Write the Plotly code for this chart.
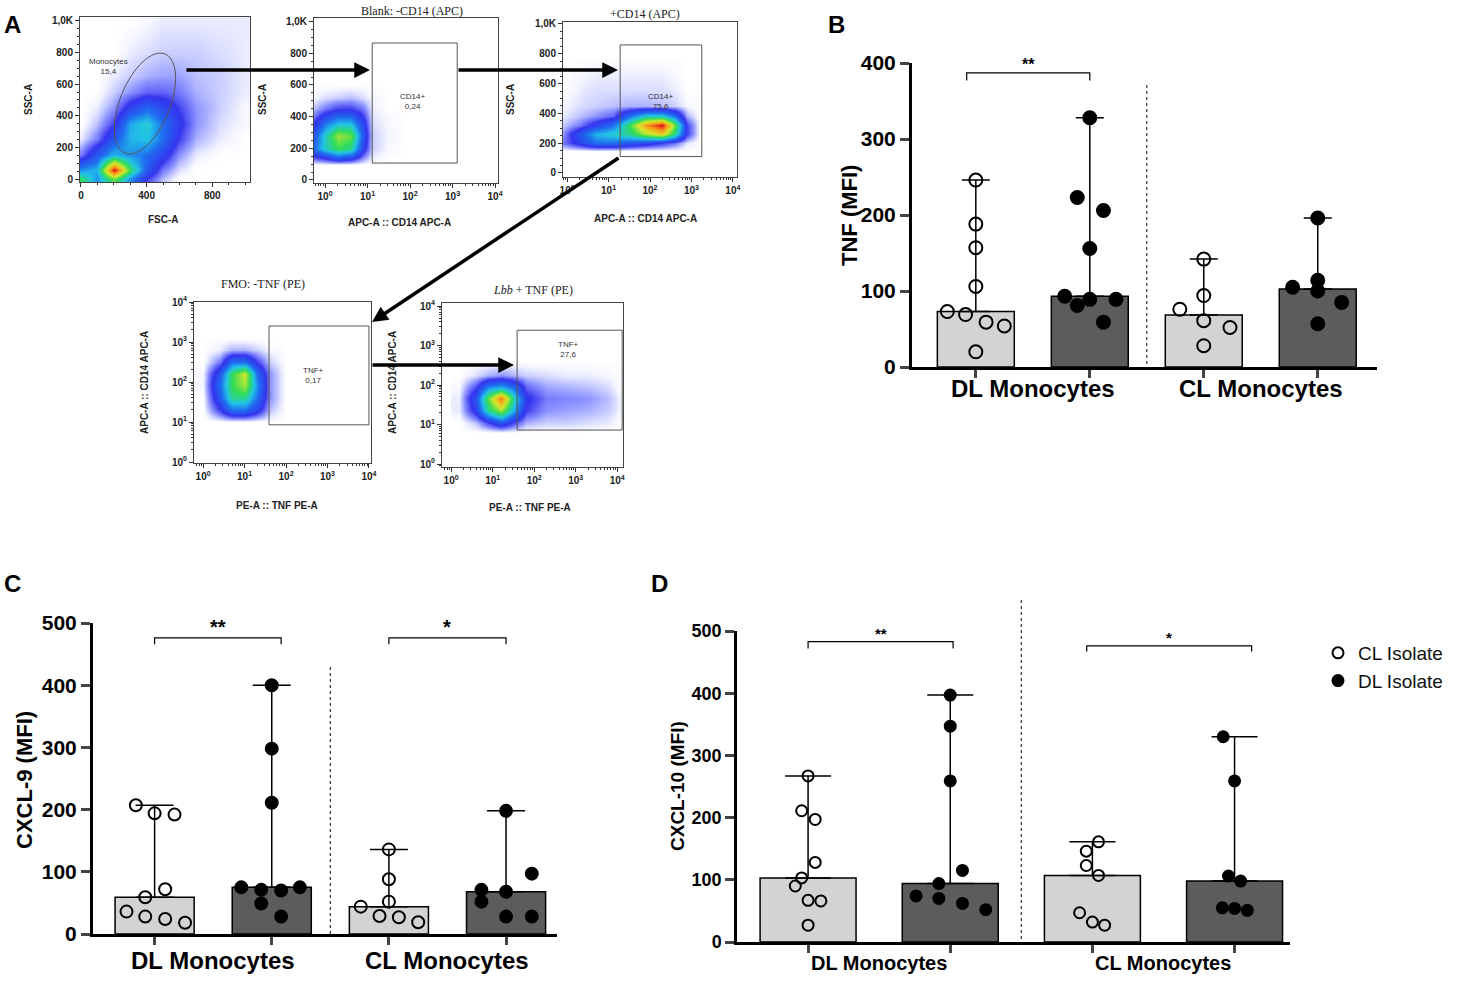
import numpy as np
import plotly.graph_objects as go

W, H = 1459, 986


def px(x):
    return x / W


def py(y):
    return 1 - y / H


# %%
# Panels B-D: MFI per donor
# groups: DL monocytes + CL isolate, DL monocytes + DL isolate,
#         CL monocytes + CL isolate, CL monocytes + DL isolate
tnf_dl_mono_cl = [246, 188, 157, 106, 73, 69, 59, 54, 20]
tnf_dl_mono_dl = [328, 223, 206, 156, 93, 81, 89, 89, 59]
tnf_cl_mono_cl = [142, 94, 76, 61, 52, 28]
tnf_cl_mono_dl = [196, 114, 105, 100, 85, 57]

cxcl9_dl_mono_cl = [207, 194, 192, 72, 59, 36, 28, 24, 18]
cxcl9_dl_mono_dl = [400, 298, 211, 75, 71, 70, 75, 49, 28]
cxcl9_cl_mono_cl = [136, 88, 52, 44, 29, 27, 19]
cxcl9_cl_mono_dl = [198, 97, 71, 68, 52, 28, 28]

cxcl10_dl_mono_cl = [267, 211, 197, 128, 103, 90, 67, 66, 27]
cxcl10_dl_mono_dl = [397, 347, 259, 115, 94, 74, 70, 62, 52]
cxcl10_cl_mono_cl = [161, 146, 123, 107, 47, 32, 27]
cxcl10_cl_mono_dl = [330, 259, 106, 98, 55, 54, 51]

# horizontal spread of the dots (bar units)
tnf_jitter = [[0, 0, 0, 0, -0.25, -0.09, 0.09, 0.25, 0],
              [0, -0.11, 0.12, 0, -0.22, -0.11, 0, 0.23, 0.12],
              [0, 0, -0.21, 0, 0.23, 0],
              [0, 0, -0.22, 0, 0.21, 0]]
cxcl9_jitter = [[-0.16, 0, 0.17, 0.09, -0.08, -0.24, -0.08, 0.09, 0.26],
                [0, 0, 0, -0.26, -0.09, 0.08, 0.24, -0.09, 0.08],
                [0, 0, 0, -0.24, -0.08, 0.085, 0.25],
                [0, 0.22, -0.21, 0, -0.21, 0, 0.22]]
cxcl10_jitter = [[0, -0.045, 0.05, 0.05, -0.045, -0.09, 0, 0.09, 0],
                 [0, 0, 0, 0.086, -0.08, -0.24, -0.08, 0.086, 0.25],
                 [0.043, -0.043, -0.043, 0.043, -0.09, 0, 0.086],
                 [-0.08, 0, -0.043, 0.043, -0.086, 0, 0.09]]

group_labels = ["DL Monocytes", "CL Monocytes"]
isolate_names = ["CL Isolate", "DL Isolate"]

# %%
# Panel A: gating plots, coarse density grids
a1_x = [0, 100, 200, 300, 400, 500, 600, 700, 850, 1000]
a1_y = [0, 60, 150, 250, 350, 450, 550, 650, 800, 1000]
a1_z = [[0.55, 0.35, 0.6, 0.35, 0.15, 0.05, 0, 0, 0, 0],
        [0.35, 0.4, 1.0, 0.55, 0.25, 0.1, 0.03, 0, 0, 0],
        [0.1, 0.25, 0.4, 0.35, 0.3, 0.2, 0.08, 0.02, 0, 0],
        [0.02, 0.1, 0.25, 0.4, 0.42, 0.3, 0.15, 0.06, 0.02, 0],
        [0, 0.05, 0.15, 0.38, 0.45, 0.3, 0.18, 0.08, 0.03, 0.01],
        [0, 0.02, 0.08, 0.2, 0.28, 0.22, 0.15, 0.08, 0.04, 0.01],
        [0, 0, 0.04, 0.08, 0.12, 0.12, 0.1, 0.06, 0.04, 0.02],
        [0, 0, 0.02, 0.04, 0.06, 0.07, 0.07, 0.05, 0.04, 0.02],
        [0, 0, 0, 0.02, 0.03, 0.04, 0.04, 0.04, 0.03, 0.02],
        [0, 0, 0, 0, 0.01, 0.02, 0.02, 0.02, 0.02, 0.02]]

a2_x = [-0.26, 0, 0.3, 0.6, 0.9, 1.1, 1.5, 2.0]
a2_y = [100, 150, 200, 280, 360, 450, 520, 600]
a2_z = [[0, 0, 0, 0, 0, 0, 0, 0],
        [0.15, 0.2, 0.3, 0.25, 0.1, 0.02, 0, 0],
        [0.3, 0.45, 0.55, 0.5, 0.2, 0.04, 0.01, 0],
        [0.25, 0.45, 0.65, 0.6, 0.25, 0.04, 0.01, 0],
        [0.15, 0.3, 0.4, 0.4, 0.2, 0.03, 0.01, 0],
        [0.05, 0.1, 0.15, 0.15, 0.1, 0.02, 0, 0],
        [0.01, 0.03, 0.04, 0.05, 0.03, 0.01, 0, 0],
        [0, 0, 0, 0, 0, 0, 0, 0]]

a3_x = [-0.1, 0.3, 0.7, 1.1, 1.5, 1.9, 2.3, 2.6, 2.9, 3.2]
a3_y = [150, 200, 260, 320, 380, 450, 550, 650, 780]
a3_z = [[0, 0, 0, 0, 0, 0, 0, 0, 0, 0],
        [0.1, 0.2, 0.3, 0.3, 0.25, 0.2, 0.15, 0.1, 0.02, 0],
        [0.08, 0.25, 0.4, 0.45, 0.5, 0.65, 0.75, 0.5, 0.15, 0],
        [0.04, 0.1, 0.2, 0.3, 0.55, 0.85, 1.0, 0.6, 0.15, 0],
        [0.02, 0.05, 0.08, 0.12, 0.3, 0.45, 0.45, 0.3, 0.06, 0],
        [0.01, 0.03, 0.04, 0.05, 0.06, 0.06, 0.05, 0.04, 0.01, 0],
        [0, 0.02, 0.03, 0.03, 0.03, 0.03, 0.03, 0.02, 0, 0],
        [0, 0.01, 0.02, 0.02, 0.02, 0.02, 0.02, 0.01, 0, 0],
        [0, 0, 0, 0, 0, 0, 0, 0, 0, 0]]

a4_x = [0, 0.4, 0.7, 1.0, 1.3, 1.6, 2.0]
a4_y = [1.0, 1.3, 1.6, 1.9, 2.2, 2.5, 2.8, 3.1]
a4_z = [[0, 0, 0, 0, 0, 0, 0],
        [0, 0.15, 0.3, 0.3, 0.2, 0.05, 0],
        [0, 0.25, 0.5, 0.5, 0.3, 0.08, 0],
        [0.01, 0.3, 0.55, 0.65, 0.35, 0.08, 0],
        [0.01, 0.25, 0.55, 0.7, 0.3, 0.08, 0],
        [0, 0.1, 0.3, 0.3, 0.15, 0.04, 0],
        [0, 0.02, 0.06, 0.06, 0.04, 0.01, 0],
        [0, 0, 0, 0, 0, 0, 0]]

a5_x = [0.2, 0.6, 0.9, 1.2, 1.5, 1.8, 2.3, 2.8, 3.3, 3.8, 4.1]
a5_y = [0.8, 1.05, 1.35, 1.65, 1.95, 2.25, 2.6]
a5_z = [[0, 0, 0, 0, 0, 0, 0, 0, 0, 0, 0],
        [0, 0.05, 0.15, 0.25, 0.15, 0.06, 0.04, 0.04, 0.03, 0.02, 0],
        [0.02, 0.2, 0.5, 0.65, 0.4, 0.15, 0.08, 0.07, 0.06, 0.04, 0.01],
        [0.02, 0.25, 0.6, 0.9, 0.5, 0.18, 0.1, 0.09, 0.08, 0.05, 0.01],
        [0.01, 0.15, 0.35, 0.4, 0.3, 0.12, 0.07, 0.06, 0.05, 0.03, 0],
        [0, 0.03, 0.06, 0.08, 0.06, 0.04, 0.03, 0.02, 0.02, 0.01, 0],
        [0, 0, 0, 0, 0, 0, 0, 0, 0, 0, 0]]

# gate rectangles (x0, x1, y0, y1) in axis units
gate_a2 = [1.11, 3.11, 107, 865]
gate_a3 = [1.28, 3.25, 110, 859]
gate_a4 = [1.59, 4.0, 0.93, 3.4]
gate_a5 = [1.59, 4.12, 0.86, 3.39]
gate_names = ["Monocytes<br>15,4", "CD14+<br>0,24", "CD14+<br>75,6", "TNF+<br>0,17", "TNF+<br>27,6"]

flow_scale = [[0, "#ffffff"], [0.015, "#f2f3ff"], [0.035, "#d2d6ff"], [0.08, "#8c93ff"],
              [0.16, "#3434ee"], [0.3, "#1f6cf0"], [0.42, "#22c4e6"], [0.55, "#30dc5a"],
              [0.7, "#d6e82a"], [0.85, "#f59a1a"], [1, "#e6101a"]]

LIGHT = "#d3d3d3"
DARK = "#5c5c5c"
SANS = "Liberation Sans, Arial, sans-serif"
SERIF = "Liberation Serif, Times New Roman, serif"

fig = go.Figure()
layout = {}
annotations = []
shapes = []


def note(x, y, text, font, xref="paper", yref="paper", **kw):
    d = dict(x=x, y=y, xref=xref, yref=yref, text=text, showarrow=False,
             xanchor="center", yanchor="middle", font=font)
    d.update(kw)
    annotations.append(d)


def log_ticks(lo, hi):
    minor = [np.log10(m * 10 ** k) for k in range(-1, 5) for m in range(2, 10)]
    return [v for v in minor if lo <= v <= hi]


def flow_axis(i, xpx, ypx, xr, yr, xlog, ylog, xt=None, yt=None):
    s = "" if i == 1 else str(i)
    base = dict(showline=True, mirror=True, linecolor="#444", linewidth=1, ticks="outside",
                ticklen=4, tickwidth=1, tickcolor="#333", showgrid=False, zeroline=False,
                automargin=False,
                tickfont=dict(family=SANS, size=10, weight="bold", color="#222"))
    xa = dict(base, domain=[px(xpx[0]), px(xpx[1])], range=xr, anchor="y" + s)
    ya = dict(base, domain=[py(ypx[1]), py(ypx[0])], range=yr, anchor="x" + s)
    for ax, islog, t in ((xa, xlog, xt), (ya, ylog, yt)):
        if islog:
            ax["tickvals"] = [0, 1, 2, 3, 4]
            ax["ticktext"] = ["10<sup>%d</sup>" % k for k in range(5)]
            ax["minor"] = dict(tickmode="array", tickvals=log_ticks(*ax["range"]),
                               ticks="outside", ticklen=2, tickcolor="#333")
        else:
            ax["tickvals"], ax["ticktext"], step = t
            ax["minor"] = dict(dtick=step, tick0=0, ticks="outside", ticklen=2, tickcolor="#333")
    layout["xaxis" + s] = xa
    layout["yaxis" + s] = ya


# %%
# Panel A
lin_y = ([0, 200, 400, 600, 800, 1000], ["0", "200", "400", "600", "800", "1,0K"], 50)
flow_axis(1, (80, 250), (17, 182), [-6, 1030], [-19, 1025], False, False,
          xt=([0, 400, 800], ["0", "400", "800"], 100), yt=lin_y)
flow_axis(2, (314, 498), (18, 183), [-0.26, 4.07], [-19, 1023], True, False, yt=lin_y)
flow_axis(3, (563, 737), (22, 177), [-0.1, 4.1], [-27, 1013], True, False, yt=lin_y)
flow_axis(4, (194, 371), (302, 463), [-0.22, 4.05], [-0.025, 4.0], True, True)
flow_axis(5, (442, 623), (303, 467), [-0.22, 4.14], [-0.076, 4.08], True, True)

for i, (gx, gy, gz) in enumerate([(a1_x, a1_y, a1_z), (a2_x, a2_y, a2_z), (a3_x, a3_y, a3_z),
                                  (a4_x, a4_y, a4_z), (a5_x, a5_y, a5_z)], start=1):
    s = "" if i == 1 else str(i)
    fig.add_trace(go.Heatmap(x=gx, y=gy, z=gz, zsmooth="best", colorscale=flow_scale,
                             zmin=0, zmax=1, showscale=False, hoverinfo="skip",
                             xaxis="x" + s, yaxis="y" + s))

for i, g in zip([2, 3, 4, 5], [gate_a2, gate_a3, gate_a4, gate_a5]):
    shapes.append(dict(type="rect", xref="x%d" % i, yref="y%d" % i, x0=g[0], x1=g[1],
                       y0=g[2], y1=g[3], line=dict(color="#555", width=1)))


def ellipse_path(cx, cy, a, b, ux, uy):
    nx, ny = -uy, ux
    k = 0.5523

    def pt(cu, cn):
        return "%.5f,%.5f" % (px(cx + cu * ux + cn * nx), py(cy + cu * uy + cn * ny))

    d = "M " + pt(a, 0)
    for c1, c2, e in [((a, k * b), (k * a, b), (0, b)), ((-k * a, b), (-a, k * b), (-a, 0)),
                      ((-a, -k * b), (-k * a, -b), (0, -b)), ((k * a, -b), (a, -k * b), (a, 0))]:
        d += " C %s %s %s" % (pt(*c1), pt(*c2), pt(*e))
    return d + " Z"


shapes.append(dict(type="path", xref="paper", yref="paper",
                   path=ellipse_path(145, 103.5, 53.4, 25, 0.3745, -0.927),
                   line=dict(color="#555", width=1)))

gate_label_pos = [(108, 67), (413, 102), (660, 102), (313, 375), (568, 350)]
for (gx, gy), txt in zip(gate_label_pos, gate_names):
    note(px(gx), py(gy), txt, dict(family=SANS, size=8, color="#333"))

flow_titles = [("Blank: -CD14 (APC)", 412, 11), ("+CD14 (APC)", 645, 14),
               ("FMO: -TNF (PE)", 263, 284), ("<i>Lbb</i> + TNF (PE)", 533, 290)]
for txt, tx, ty in flow_titles:
    note(px(tx), py(ty), txt, dict(family=SERIF, size=12, color="#222"))

axis_titles = [("SSC-A", 28, 100, -90), ("FSC-A", 163, 220, 0),
               ("SSC-A", 262, 100, -90), ("APC-A :: CD14 APC-A", 400, 222, 0),
               ("SSC-A", 510, 100, -90), ("APC-A :: CD14 APC-A", 645, 218, 0),
               ("APC-A :: CD14 APC-A", 145, 383, -90), ("PE-A :: TNF PE-A", 277, 505, 0),
               ("APC-A :: CD14 APC-A", 393, 383, -90), ("PE-A :: TNF PE-A", 530, 508, 0)]
for txt, tx, ty, ang in axis_titles:
    note(px(tx), py(ty), txt, dict(family=SANS, size=10, weight="bold", color="#222"),
         textangle=ang)

# gating arrows (head, tail) in pixels
arrows = [((370, 70), (185, 70)), ((618, 70), (457, 70)),
          ((372, 322), (620, 157)), ((514, 365), (371, 365))]
for (hx, hy), (tx, ty) in arrows:
    annotations.append(dict(x=px(hx), y=py(hy), xref="paper", yref="paper", text="",
                            ax=tx - hx, ay=ty - hy, showarrow=True, arrowhead=2,
                            arrowsize=0.9, arrowwidth=3.5, arrowcolor="black"))

# %%
# Panels B, C, D
bar_panels = [
    dict(i=6, data=[tnf_dl_mono_cl, tnf_dl_mono_dl, tnf_cl_mono_cl, tnf_cl_mono_dl],
         jit=tnf_jitter, xpx=(912, 1377), ypx=(63, 367), yr=[0, 400], xr=[-0.56, 3.52],
         title="TNF (MFI)", tpos=(850, 216), tfs=21, ttl=22, lfs=24, lab_y=388,
         msize=13, cap=14, lw=3, div=(85, 367), sfs=16,
         brackets=[(-0.08, 1.0, 377, 387, "**")]),
    dict(i=7, data=[cxcl9_dl_mono_cl, cxcl9_dl_mono_dl, cxcl9_cl_mono_cl, cxcl9_cl_mono_dl],
         jit=cxcl9_jitter, xpx=(93, 557), ypx=(623, 934), yr=[0, 500], xr=[-0.526, 3.435],
         title="CXCL-9 (MFI)", tpos=(24, 780), tfs=21, ttl=22, lfs=24, lab_y=960,
         msize=12, cap=19, lw=3, div=(667, 934), sfs=20,
         brackets=[(0, 1.08, 466, 476, "**"), (2.0, 3.0, 466, 476, "*")]),
    dict(i=8, data=[cxcl10_dl_mono_cl, cxcl10_dl_mono_dl, cxcl10_cl_mono_cl, cxcl10_cl_mono_dl],
         jit=cxcl10_jitter, xpx=(737, 1290), ypx=(631, 942), yr=[0, 500], xr=[-0.5, 3.39],
         title="CXCL-10 (MFI)", tpos=(677, 786), tfs=18, ttl=19, lfs=20, lab_y=963,
         msize=11, cap=23, lw=2.5, div=(600, 942), sfs=15,
         brackets=[(0, 1.02, 472, 483, "**"), (1.96, 3.12, 467, 476, "*")]),
]

for p in bar_panels:
    s = str(p["i"])
    med = [float(np.median(v)) for v in p["data"]]
    top = [float(np.max(v)) - m for v, m in zip(p["data"], med)]
    fig.add_trace(go.Bar(x=[0, 1, 2, 3], y=med, width=0.675, xaxis="x" + s, yaxis="y" + s,
                         marker=dict(color=[LIGHT, DARK, LIGHT, DARK],
                                     line=dict(color="black", width=1.5)),
                         error_y=dict(type="data", symmetric=False, array=top,
                                      arrayminus=[0, 0, 0, 0], color="black",
                                      thickness=1.5, width=p["cap"]),
                         showlegend=False, hoverinfo="skip"))
    for g, (vals, jit) in enumerate(zip(p["data"], p["jit"])):
        filled = g % 2 == 1
        fig.add_trace(go.Scatter(
            x=[g + j for j in jit], y=vals, mode="markers", xaxis="x" + s, yaxis="y" + s,
            name=isolate_names[g % 2], cliponaxis=False, hoverinfo="skip",
            showlegend=(p["i"] == 8 and g < 2), legendrank=g + 1,
            marker=dict(size=p["msize"], symbol="circle" if filled else "circle-open",
                        color="black", line=dict(color="black", width=2))))

    layout["xaxis" + s] = dict(domain=[px(p["xpx"][0]), px(p["xpx"][1])], range=p["xr"],
                               anchor="y" + s, showline=True, linecolor="black",
                               linewidth=p["lw"], ticks="outside", ticklen=8,
                               tickwidth=2.5, tickvals=[0, 1, 2, 3], showticklabels=False,
                               showgrid=False, zeroline=False, automargin=False)
    layout["yaxis" + s] = dict(domain=[py(p["ypx"][1]), py(p["ypx"][0])], range=p["yr"],
                               anchor="x" + s, showline=True, linecolor="black",
                               linewidth=p["lw"], ticks="outside", ticklen=9, tickwidth=2.5,
                               dtick=100, showgrid=False, zeroline=False, automargin=False,
                               tickfont=dict(family=SANS, size=p["tfs"], weight="bold",
                                             color="black"))
    note(px(p["tpos"][0]), py(p["tpos"][1]), p["title"],
         dict(family=SANS, size=p["ttl"], weight="bold", color="black"),
         textangle=-90)
    for k, lab in enumerate(group_labels):
        note(2 * k + 0.5, py(p["lab_y"]), lab,
             dict(family=SANS, size=p["lfs"], weight="bold", color="black"),
             xref="x" + s)
    shapes.append(dict(type="line", xref="x" + s, yref="paper", x0=1.5, x1=1.5,
                       y0=py(p["div"][0]), y1=py(p["div"][1]),
                       line=dict(color="#333", width=1.2, dash="dot")))
    for x0, x1, ylo, yhi, star in p["brackets"]:
        shapes.append(dict(type="path", xref="x" + s, yref="y" + s,
                           path="M %s,%s L %s,%s L %s,%s L %s,%s" % (x0, ylo, x0, yhi, x1, yhi, x1, ylo),
                           line=dict(color="black", width=1.2)))
        note((x0 + x1) / 2, yhi, star,
             dict(family=SANS, size=p["sfs"], weight="bold", color="black"),
             xref="x" + s, yref="y" + s, yanchor="bottom", yshift=-2)

for lab, lx, ly in [("A", 12, 25), ("B", 836, 25), ("C", 12, 583), ("D", 659, 583)]:
    note(px(lx), py(ly), lab, dict(family=SANS, size=24, weight="bold", color="black"))

fig.update_layout(
    width=W, height=H, margin=dict(l=0, r=0, t=0, b=0, autoexpand=False),
    paper_bgcolor="white", plot_bgcolor="rgba(0,0,0,0)",
    showlegend=True,
    legend=dict(x=px(1318), y=py(634), xanchor="left", yanchor="top",
                font=dict(family=SANS, size=19, color="#111"), bgcolor="rgba(0,0,0,0)",
                tracegroupgap=0),
    annotations=annotations, shapes=shapes, **layout)

# the page's default 8px body margin would shift the whole figure
fig.write_html("out.html", config={"displayModeBar": False},
               post_script="document.body.style.margin='0';document.body.style.overflow='hidden';")
